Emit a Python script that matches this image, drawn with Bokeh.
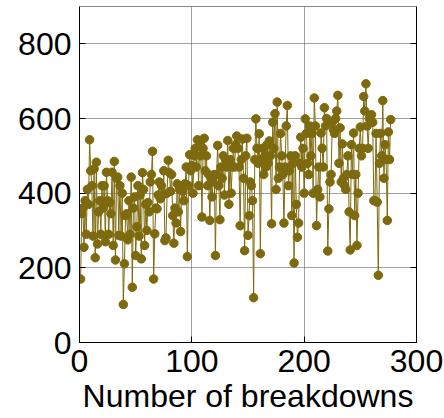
from bokeh.plotting import figure
from bokeh.models import LinearAxis, FixedTicker, ColumnDataSource, Range1d
from bokeh.embed import file_html
from bokeh.resources import INLINE

# breakdown index 1..277 and corresponding values
values = [
    170, 345, 360, 255, 380, 290, 410, 370, 543, 460,
    420, 285, 465, 227, 483, 264, 350, 380, 290, 420,
    360, 420, 270, 456, 380, 290, 375, 345, 456, 260,
    485, 221, 440, 443, 287, 420, 285, 400, 102, 211,
    340, 345, 275, 380, 290, 443, 148, 360, 390, 233,
    310, 420, 285, 395, 224, 455, 410, 260, 370, 300,
    375, 350, 430, 450, 512, 170, 291, 360, 358, 395,
    430, 385, 420, 395, 460, 273, 280, 400, 488, 455,
    405, 450, 340, 266, 360, 320, 425, 350, 410, 297,
    420, 405, 380, 425, 470, 230, 420, 503, 460, 474,
    400, 500, 520, 470, 543, 420, 540, 500, 336, 520,
    547, 460, 500, 420, 450, 327, 440, 390, 430, 450,
    233, 450, 528, 420, 329, 470, 440, 500, 395, 490,
    470, 541, 370, 490, 400, 470, 520, 470, 530, 553,
    520, 470, 313, 490, 545, 440, 246, 500, 547, 287,
    340, 430, 420, 380, 120, 490, 599, 520, 480, 559,
    238, 490, 520, 450, 500, 470, 530, 480, 540, 500,
    318, 590, 520, 613, 410, 644, 440, 470, 560, 500,
    450, 320, 470, 580, 635, 420, 460, 500, 340, 480,
    213, 500, 370, 282, 320, 480, 550, 470, 520, 400,
    599, 560, 480, 450, 580, 500, 560, 400, 655, 580,
    313, 410, 470, 390, 561, 520, 470, 629, 580, 600,
    245, 358, 430, 450, 590, 570, 560, 600, 620, 662,
    480, 575, 430, 532, 440, 420, 410, 450, 500, 350,
    248, 530, 450, 561, 340, 450, 260, 400, 520, 577,
    500, 520, 659, 620, 693, 580, 520, 600, 608, 610,
    590, 380, 380, 560, 376, 180, 480, 560, 500, 648,
    440, 530, 490, 327, 564, 490, 597,
]
breakdowns = list(range(1, len(values) + 1))

x_ticks = [0, 100, 200, 300]
y_ticks = [0, 200, 400, 600, 800]
x_label = "Number of breakdowns"

FONT = "Liberation Sans"
COLOR = "#7d6a0e"

src = ColumnDataSource(dict(x=breakdowns, y=values))

p = figure(width=444, height=418, output_backend="svg", toolbar_location=None,
           x_range=Range1d(0, 300), y_range=Range1d(0, 900),
           min_border_left=79, min_border_right=28, min_border_top=6,
           min_border_bottom=76)

p.line("x", "y", source=src, line_color=COLOR, line_width=1)
p.scatter("x", "y", source=src, size=8.5, fill_color=COLOR, line_color=COLOR)

p.outline_line_color = "#888888"
p.outline_line_width = 1

for ax in (p.xaxis[0], p.yaxis[0]):
    ax.major_label_text_font = FONT
    ax.major_label_text_font_size = "32px"
    ax.major_label_text_color = "black"
    ax.axis_line_color = "black"
    ax.major_tick_in = 6
    ax.major_tick_out = 0
    ax.minor_tick_in = 0
    ax.minor_tick_out = 0
    ax.major_tick_line_color = "black"

p.xaxis[0].ticker = FixedTicker(ticks=x_ticks)
p.yaxis[0].ticker = FixedTicker(ticks=y_ticks)
p.xaxis[0].major_label_standoff = 7
p.yaxis[0].major_label_standoff = 8
p.xaxis[0].axis_label = x_label
p.xaxis[0].axis_label_text_font = FONT
p.xaxis[0].axis_label_text_font_size = "32px"
p.xaxis[0].axis_label_text_font_style = "normal"
p.xaxis[0].axis_label_text_color = "black"
p.xaxis[0].axis_label_standoff = 3

right = LinearAxis(ticker=FixedTicker(ticks=y_ticks))
right.major_label_text_font_size = "0px"
right.major_label_text_alpha = 0
right.axis_line_color = "black"
right.major_tick_in = 6
right.major_tick_out = 0
right.minor_tick_in = 0
right.minor_tick_out = 0
right.major_label_standoff = 0
p.add_layout(right, "right")

p.xgrid.ticker = FixedTicker(ticks=x_ticks)
p.ygrid.ticker = FixedTicker(ticks=y_ticks)
for g in (p.xgrid[0], p.ygrid[0]):
    g.grid_line_color = "#444444"
    g.grid_line_dash = "1 1"
    g.grid_line_width = 1

open("out.html", "w").write(file_html(p, INLINE))
